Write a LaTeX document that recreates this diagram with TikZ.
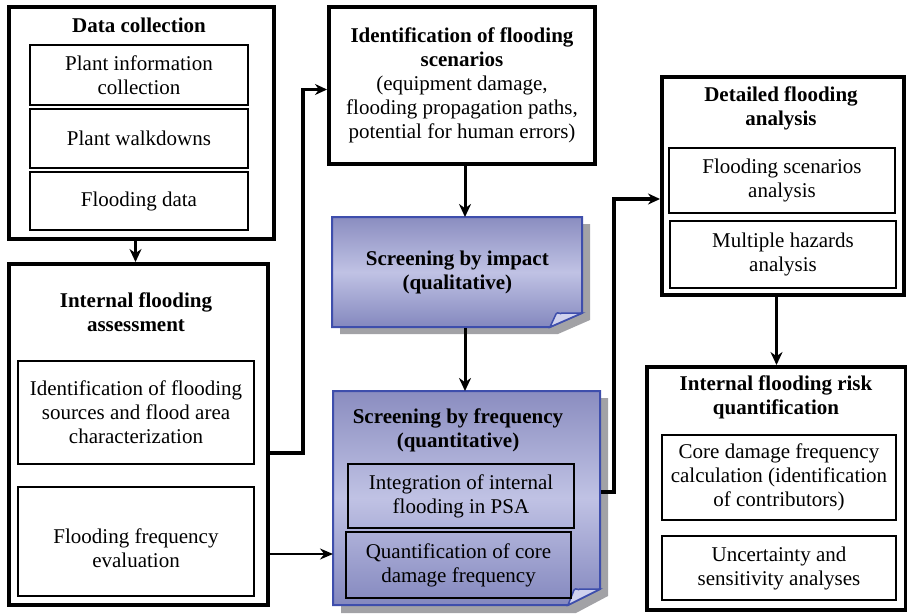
\documentclass[tikz,border=0pt]{standalone}
\usepackage{fontspec}
\setmainfont{Liberation Serif}
\usetikzlibrary{arrows.meta}

\definecolor{screenblue}{RGB}{62,78,172}
\definecolor{screentop}{RGB}{138,141,192}
\definecolor{screenmid}{RGB}{192,194,228}
\definecolor{screenfold}{RGB}{208,210,238}
\definecolor{shadowgray}{RGB}{162,162,166}

\tikzset{every picture/.style={line width=0.75pt},
    txt/.style={font=\fontsize{21}{24}\selectfont, align=center, inner sep=0pt},
    ttl/.style={txt, font=\fontsize{21}{24}\selectfont\bfseries},
    outerbox/.style={draw, line width=4pt, anchor=north west, inner sep=0pt},
    innerbox/.style={txt, draw, line width=2pt, anchor=north west},
    screenfill/.style={draw=screenblue, line width=2pt, top color=screentop, bottom color=screentop!92!screenblue, middle color=screenmid},
    flowarrow/.style={line width=3pt, -{Stealth[length=13pt,width=12pt]}},
    elbowarrow/.style={line width=3.5pt, -{Stealth[length=12pt,width=11pt]}},
    thinarrow/.style={line width=2pt, -{Stealth[length=13pt,width=11pt]}},
}

\begin{document}
\begin{tikzpicture}[x=1pt,y=1pt,yscale=-1,xscale=1]
    \useasboundingbox (0,0) rectangle (907,613);

    %Shape: screening by impact (shadow, body, fold)
    \fill[shadowgray] (340,224) -- (590,224) -- (590,320) -- (558,334) -- (340,334) -- cycle;
    \path[screenfill] (332,217) -- (582,217) -- (582,313) -- (550,327) -- (332,327) -- cycle;
    \filldraw[fill=screenfold, draw=screenblue, line width=1.5pt] (550,327) -- (556,314) .. controls (558,311) and (560,315) .. (562,313) -- (582,313) -- cycle;

    %Shape: screening by frequency (shadow, body, fold)
    \fill[shadowgray] (341,398) -- (608,398) -- (608,596) -- (576,613) -- (341,613) -- cycle;
    \path[screenfill] (333,391) -- (600,391) -- (600,589) -- (568,605) -- (333,605) -- cycle;
    \filldraw[fill=screenfold, draw=screenblue, line width=1.5pt] (568,605) -- (574,590) .. controls (576,587) and (578,591) .. (580,589) -- (600,589) -- cycle;

    % Data collection
    \node[outerbox, minimum width=265pt, minimum height=232pt] (dc) at (7,5) {};
    \node[ttl] (dctitle) at (139,25) {Data collection};
    \node[innerbox, minimum width=218pt, minimum height=60pt] (dc1) at (29,44) {Plant information\\collection};
    \node[innerbox, minimum width=218pt, minimum height=59pt] (dc2) at (29,108) {Plant walkdowns};
    \node[innerbox, minimum width=218pt, minimum height=58pt] (dc3) at (29,171) {Flooding data};

    % Internal flooding assessment
    \node[outerbox, minimum width=259pt, minimum height=341pt] (ifa) at (7,262) {};
    \node[ttl] (ifatitle) at (136,312) {Internal flooding\\assessment};
    \node[innerbox, minimum width=236pt, minimum height=103pt] (ifa1) at (17,360) {Identification of flooding\\sources and flood area\\characterization};
    \node[innerbox, minimum width=236pt, minimum height=109pt, label={[txt, yshift=-7pt]center:Flooding frequency\\evaluation}] (ifa2) at (17,486) {};

    % Identification of flooding scenarios
    \node[outerbox, txt, minimum width=266pt, minimum height=157pt] (ifs) at (327,5) {\textbf{Identification of flooding}\\\textbf{scenarios}\\(equipment damage,\\flooding propagation paths,\\potential for human errors)};

    % Screening nodes
    \node[ttl, minimum width=250pt, minimum height=110pt, anchor=north west] (sbi) at (332,217) {Screening by impact\\(qualitative)};
    \node[minimum width=267pt, minimum height=214pt, anchor=north west, inner sep=0pt] (sbf) at (333,391) {};
    \node[ttl] (sbftitle) at (458,430) {Screening by frequency\\(quantitative)};
    \node[innerbox, minimum width=226pt, minimum height=64pt] (sbf1) at (347,463) {Integration of internal\\flooding in PSA};
    \node[innerbox, minimum width=225pt, minimum height=66pt] (sbf2) at (345,531) {Quantification of core\\damage frequency};

    % Detailed flooding analysis
    \node[outerbox, minimum width=242pt, minimum height=218pt] (dfa) at (660,75) {};
    \node[ttl] (dfatitle) at (781,108) {Detailed flooding\\analysis};
    \node[innerbox, minimum width=226pt, minimum height=65pt] (dfa1) at (668,147) {Flooding scenarios\\analysis};
    \node[innerbox, minimum width=226pt, minimum height=67pt] (dfa2) at (669,220) {Multiple hazards\\analysis};

    % Internal flooding risk quantification
    \node[outerbox, minimum width=259pt, minimum height=243pt] (ifrq) at (645,365) {};
    \node[ttl] (ifrqtitle) at (776,397) {Internal flooding risk\\quantification};
    \node[innerbox, minimum width=234pt, minimum height=85pt] (ifrq1) at (661,434) {Core damage frequency\\calculation (identification\\of contributors)};
    \node[innerbox, minimum width=234pt, minimum height=64pt] (ifrq2) at (661,535) {Uncertainty and\\sensitivity analyses};

    % Connectors
    \coordinate (elbowA) at (303,453);
    \coordinate (feedA) at (0,554);
    \coordinate (elbowB) at (614,492);
    \coordinate (elbowC) at (614,199);

    \draw[flowarrow] ([xshift=-6pt]dc.south) -- ([xshift=-6pt]dc.south |- ifa.north);
    \draw[elbowarrow] (ifa.east |- elbowA) -- (elbowA) |- ([yshift=4pt]ifs.west);
    \draw[flowarrow] ([xshift=3pt]ifs.south) -- ([xshift=3pt]ifs.south |- sbi.north);
    \draw[flowarrow] ([xshift=3pt]ifs.south |- sbi.south) -- ([xshift=3pt]ifs.south |- sbf.north);
    \draw[thinarrow] (ifa.east |- feedA) -- (sbf.west |- feedA);
    \draw[elbowarrow] (sbf.east |- elbowB) -- (elbowB) -- (elbowC) -- (dfa.west |- elbowC);
    \draw[flowarrow] (ifrq.north |- dfa.south) -- (ifrq.north);
\end{tikzpicture}
\end{document}
